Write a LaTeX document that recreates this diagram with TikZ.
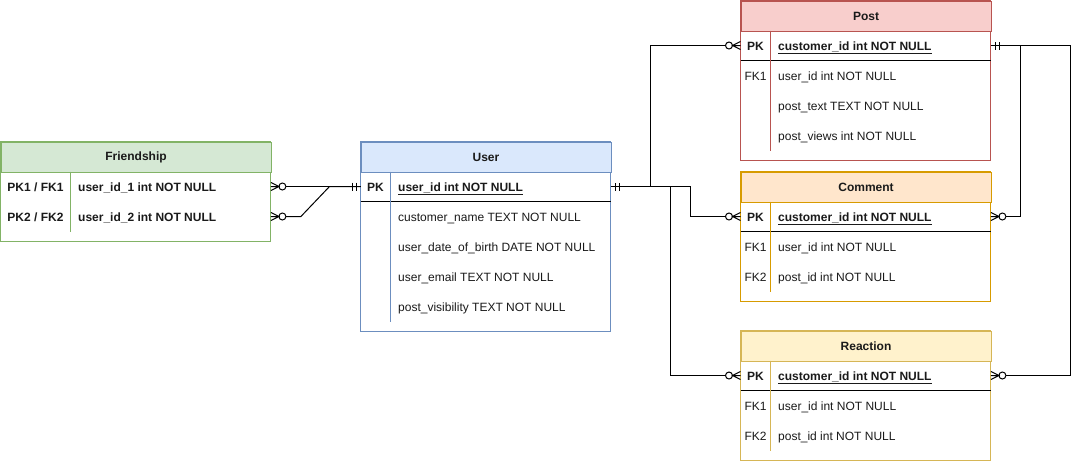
\documentclass[tikz,border=0pt]{standalone}
\usepackage{fontspec}
\setmainfont{Liberation Sans}
\usetikzlibrary{arrows.meta,calc}

\definecolor{grF}{HTML}{D5E8D4}\definecolor{grS}{HTML}{82B366}
\definecolor{blF}{HTML}{DAE8FC}\definecolor{blS}{HTML}{6C8EBF}
\definecolor{rdF}{HTML}{F8CECC}\definecolor{rdS}{HTML}{B85450}
\definecolor{orF}{HTML}{FFE6CC}\definecolor{orS}{HTML}{D79B00}
\definecolor{yeF}{HTML}{FFF2CC}\definecolor{yeS}{HTML}{D6B656}
\definecolor{txt}{HTML}{1A1A1A}

\pgfdeclarearrow{
  name=ZeroMany,
  setup code={
    \pgfarrowssettipend{0pt}
    \pgfarrowssetlineend{-15pt}
    \pgfarrowssetbackend{-15.5pt}
    \pgfarrowssetvisualbackend{-15pt}
    \pgfarrowshullpoint{0pt}{4pt}
    \pgfarrowshullpoint{0pt}{-4pt}
    \pgfarrowshullpoint{-15.5pt}{0pt}
  },
  drawing code={
    \pgfsetdash{}{0pt}
    \pgfpathmoveto{\pgfqpoint{0pt}{4pt}}
    \pgfpathlineto{\pgfqpoint{-8pt}{0pt}}
    \pgfpathlineto{\pgfqpoint{0pt}{-4pt}}
    \pgfpathmoveto{\pgfqpoint{0pt}{0pt}}
    \pgfpathlineto{\pgfqpoint{-8pt}{0pt}}
    \pgfusepathqstroke
    \pgfpathcircle{\pgfqpoint{-11.5pt}{0pt}}{3.5pt}
    \pgfusepathqstroke
  }
}
\pgfdeclarearrow{
  name=OneOne,
  setup code={
    \pgfarrowssettipend{0pt}
    \pgfarrowssetlineend{0pt}
    \pgfarrowssetbackend{-9pt}
    \pgfarrowssetvisualbackend{-9pt}
    \pgfarrowshullpoint{0pt}{4pt}
    \pgfarrowshullpoint{0pt}{-4pt}
    \pgfarrowshullpoint{-9pt}{4pt}
    \pgfarrowshullpoint{-9pt}{-4pt}
  },
  drawing code={
    \pgfsetdash{}{0pt}
    \pgfpathmoveto{\pgfqpoint{-4.5pt}{4pt}}
    \pgfpathlineto{\pgfqpoint{-4.5pt}{-4pt}}
    \pgfpathmoveto{\pgfqpoint{-8.5pt}{4pt}}
    \pgfpathlineto{\pgfqpoint{-8.5pt}{-4pt}}
    \pgfusepathqstroke
  }
}

\tikzset{
  hdr/.style={draw, line width=1pt, anchor=north west, inner sep=0pt,
    minimum height=30pt, font=\fontsize{12}{14}\selectfont\bfseries, text=txt},
  rowbox/.style={anchor=west, inner sep=0pt, minimum height=30pt},
  keytxt/.style={anchor=center, inner sep=0pt, text height=10pt, text depth=0pt,
    font=\fontsize{12}{14}\selectfont, text=txt},
  valtxt/.style={anchor=west, inner sep=0pt, text height=10pt, text depth=0pt,
    font=\fontsize{12}{14}\selectfont, text=txt},
  tbl/.style={line width=1pt, fill=white},
  conn/.style={line width=1pt, black},
}
% name, x, y, width, key width, key, value
\newcommand\ERrow[7]{%
  \node[rowbox, minimum width=#4pt] (#1) at (#2,#3) {};
  \node[keytxt] (#1-k) at (#2+#5/2,#3) {#6};
  \node[valtxt] (#1-v) at (#2+#5+7.5,#3) {#7};
}

\begin{document}
\begin{tikzpicture}[x=1pt,y=-1pt]
\useasboundingbox (0,0) rectangle (1080,461);
\begin{scope}[shift={(0.5,0.5)}]
% ---------- Friendship
\draw[tbl, draw=grS] (0,141) rectangle (270,241);
\node[hdr, draw=grS, fill=grF, minimum width=270pt] (fr) at (0,141) {Friendship};
\ERrow{fr1}{0}{186}{270}{70}{\bfseries PK1 / FK1}{\bfseries user\_id\_1 int NOT NULL}
\ERrow{fr2}{0}{216}{270}{70}{\bfseries PK2 / FK2}{\bfseries user\_id\_2 int NOT NULL}
\draw[grS, line width=1pt] (70,171) -- (70,231);

% ---------- User
\draw[tbl, draw=blS] (360,141) rectangle (610,331);
\node[hdr, draw=blS, fill=blF, minimum width=250pt] (us) at (360,141) {User};
\ERrow{uspk}{360}{186}{250}{30}{\bfseries PK}{\bfseries\underline{user\_id int NOT NULL}}
\ERrow{us1}{360}{216}{250}{30}{}{customer\_name TEXT NOT NULL}
\ERrow{us2}{360}{246}{250}{30}{}{user\_date\_of\_birth DATE NOT NULL}
\ERrow{us3}{360}{276}{250}{30}{}{user\_email TEXT NOT NULL}
\ERrow{us4}{360}{306}{250}{30}{}{post\_visibility TEXT NOT NULL}
\draw[black, line width=1pt] (360,201) -- (610,201);
\draw[blS, line width=1pt] (390,171) -- (390,321);

% ---------- Post
\draw[tbl, draw=rdS] (740,0) rectangle (990,160);
\node[hdr, draw=rdS, fill=rdF, minimum width=250pt] (po) at (740,0) {Post};
\ERrow{popk}{740}{45}{250}{30}{\bfseries PK}{\bfseries\underline{customer\_id int NOT NULL}}
\ERrow{po1}{740}{75}{250}{30}{FK1}{user\_id int NOT NULL}
\ERrow{po2}{740}{105}{250}{30}{}{post\_text TEXT NOT NULL}
\ERrow{po3}{740}{135}{250}{30}{}{post\_views int NOT NULL}
\draw[black, line width=1pt] (740,60) -- (990,60);
\draw[rdS, line width=1pt] (770,30) -- (770,150);

% ---------- Comment
\draw[tbl, draw=orS] (740,171) rectangle (990,301);
\node[hdr, draw=orS, fill=orF, minimum width=250pt] (co) at (740,171) {Comment};
\ERrow{copk}{740}{216}{250}{30}{\bfseries PK}{\bfseries\underline{customer\_id int NOT NULL}}
\ERrow{co1}{740}{246}{250}{30}{FK1}{user\_id int NOT NULL}
\ERrow{co2}{740}{276}{250}{30}{FK2}{post\_id int NOT NULL}
\draw[black, line width=1pt] (740,231) -- (990,231);
\draw[orS, line width=1pt] (770,201) -- (770,291);

% ---------- Reaction
\draw[tbl, draw=yeS] (740,330) rectangle (990,460);
\node[hdr, draw=yeS, fill=yeF, minimum width=250pt] (re) at (740,330) {Reaction};
\ERrow{repk}{740}{375}{250}{30}{\bfseries PK}{\bfseries\underline{customer\_id int NOT NULL}}
\ERrow{re1}{740}{405}{250}{30}{FK1}{user\_id int NOT NULL}
\ERrow{re2}{740}{435}{250}{30}{FK2}{post\_id int NOT NULL}
\draw[black, line width=1pt] (740,390) -- (990,390);
\draw[yeS, line width=1pt] (770,360) -- (770,450);

% ---------- connectors
\draw[conn, {ZeroMany}-{OneOne}] (fr1.east) -- (uspk.west);
\draw[conn, {ZeroMany}-] (fr2.east) -- ([xshift=30pt]fr2.east) -- ([xshift=-31pt]uspk.west) -- (uspk.west);
\draw[conn, {OneOne}-{ZeroMany}] (uspk.east) -- ([xshift=40pt]uspk.east) |- (popk.west);
\draw[conn, {OneOne}-{ZeroMany}] (uspk.east) -- ([xshift=80pt]uspk.east) |- (copk.west);
\draw[conn, {OneOne}-{ZeroMany}] (uspk.east) -- ([xshift=60pt]uspk.east) |- (repk.west);
\draw[conn, {OneOne}-{ZeroMany}] (popk.east) -- ([xshift=30pt]popk.east) |- (copk.east);
\draw[conn, {OneOne}-{ZeroMany}] (popk.east) -- ([xshift=80pt]popk.east) |- (repk.east);
\end{scope}
\end{tikzpicture}
\end{document}
